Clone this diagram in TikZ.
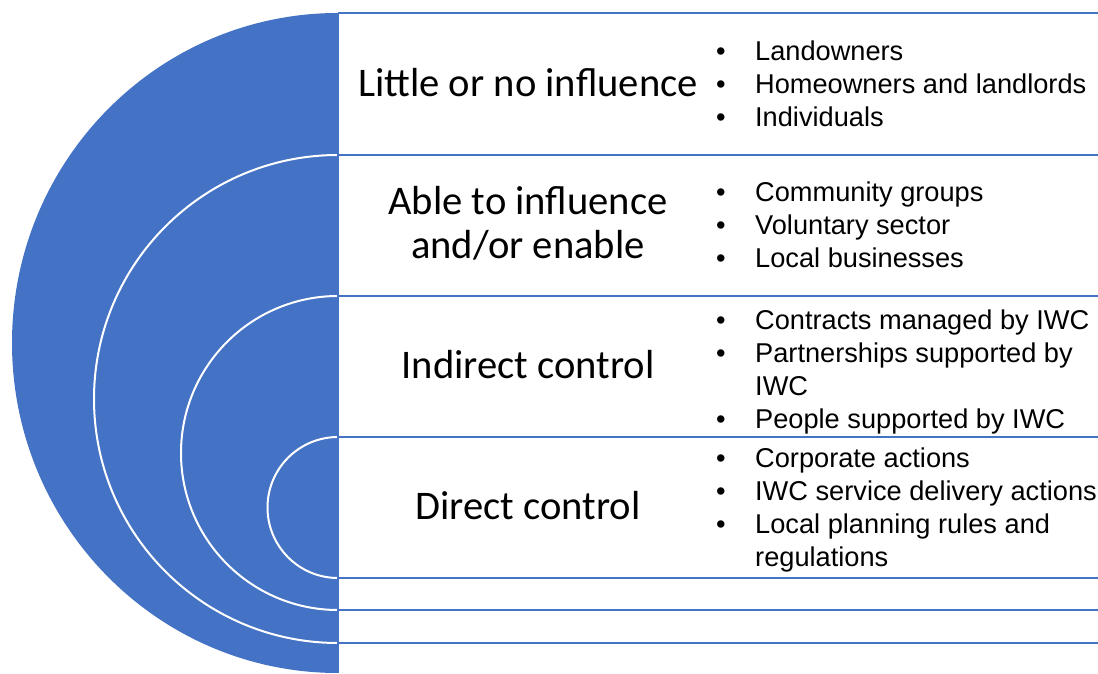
\documentclass[tikz,border=0pt]{standalone}
\usepackage{fontspec}
\usepackage{array}
\setmainfont{Carlito}
\newfontfamily\listfont{Liberation Sans}
\usetikzlibrary{positioning}
\definecolor{ringblue}{RGB}{68, 114, 196}

\newcommand{\bul}{\makebox[39pt][l]{\textbullet}}

\begin{document}
\begin{tikzpicture}[x=1pt, y=1pt,
    label/.style={align=center, font=\fontsize{40.6}{44}\selectfont, inner sep=0pt},
    bullets/.style={anchor=west, inner sep=0pt, font=\listfont\fontsize{27.2}{33}\selectfont},
    row/.style={draw=ringblue, line width=2pt},
    ring/.style={draw=white, line width=2pt}]
    \useasboundingbox (0,0) rectangle (1098,673);

    % Blue half rings
    \fill[ringblue] (338,660) arc[x radius=326, y radius=330, start angle=90, end angle=270] -- cycle;
    \draw[ring] (338,518) arc[start angle=90, end angle=270, radius=244];
    \draw[ring] (338,377) arc[start angle=90, end angle=270, radius=157];
    \draw[ring] (338,236) arc[start angle=90, end angle=270, radius=70.5];

    % Rows
    \foreach \y in {660, 518, 377, 236, 95, 63, 30}
        \draw[row] (338,\y) -- (1098,\y);
    \draw[row] (338,660) -- (338,0);

    % Labels
    \node[label] (little) at (528,590) {Little or no influence};
    \node[label] (able) at (528,450) {Able to influence\\and/or enable};
    \node[label] (indirect) at (528,308) {Indirect control};
    \node[label] (direct) at (528,167) {Direct control};

    % Bullet lists
    \node[bullets] (littlelist) at (716,586) {\begin{tabular}{@{}l@{}}
        \bul Landowners\\ \bul Homeowners and landlords\\ \bul Individuals\end{tabular}};
    \node[bullets] (ablelist) at (716,445) {\begin{tabular}{@{}l@{}}
        \bul Community groups\\ \bul Voluntary sector\\ \bul Local businesses\end{tabular}};
    \node[bullets] (indirectlist) at (716,300.5) {\begin{tabular}{@{}l@{}}
        \bul Contracts managed by IWC\\ \bul Partnerships supported by\\ \hspace{39pt}IWC\\
        \bul People supported by IWC\end{tabular}};
    \node[bullets] (directlist) at (716,162.5) {\begin{tabular}{@{}l@{}}
        \bul Corporate actions\\ \bul IWC service delivery actions\\ \bul Local planning rules and\\
        \hspace{39pt}regulations\end{tabular}};
\end{tikzpicture}
\end{document}
